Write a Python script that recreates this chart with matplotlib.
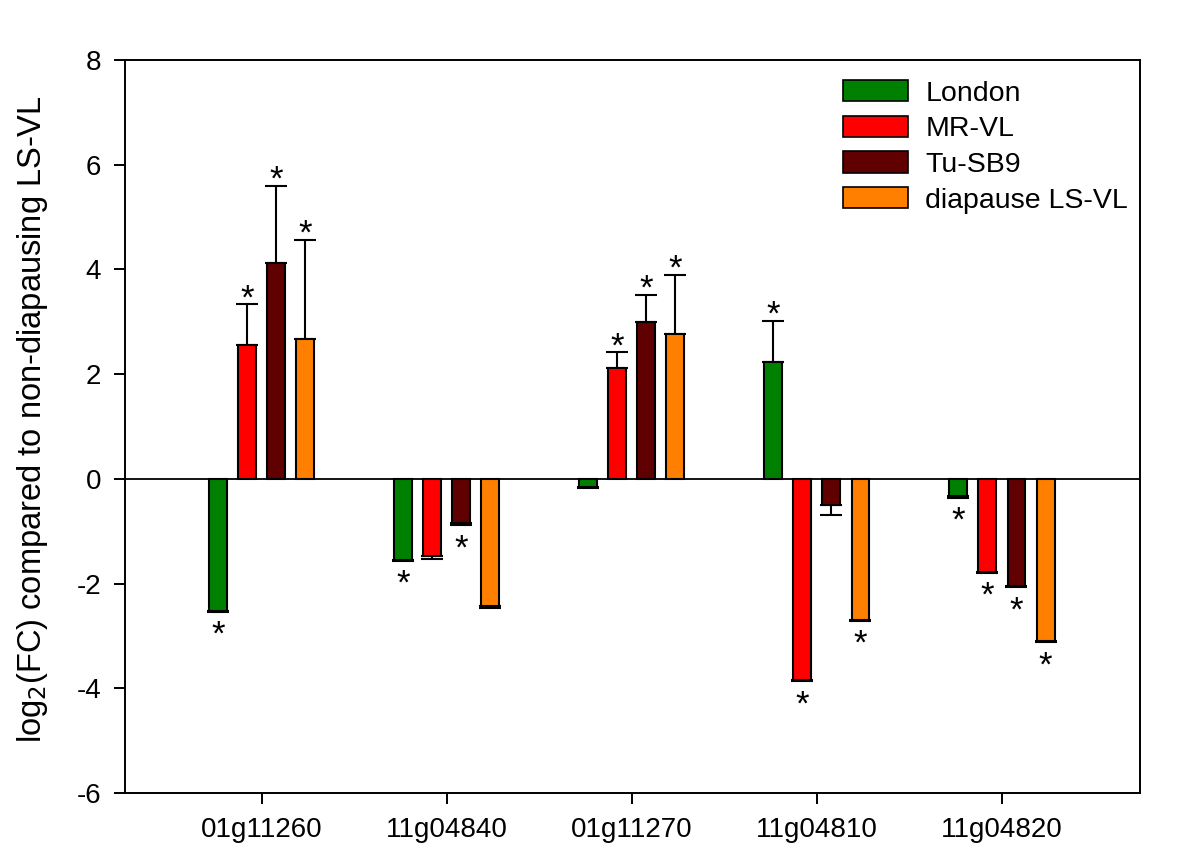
import numpy as np
import matplotlib.pyplot as plt
from matplotlib.patches import Patch

plt.rcParams['font.family'] = ['Liberation Sans', 'DejaVu Sans']
plt.rcParams['axes.unicode_minus'] = False

# Dati
genes = ['01g11260', '11g04840', '01g11270', '11g04810', '11g04820']
strains = ['London', 'MR-VL', 'Tu-SB9', 'diapause LS-VL']
colors = ['#008000', '#ff0000', '#600000', '#ff8000']

london = [-2.52, -1.55, -0.15, 2.24, -0.33]
mrvl = [2.55, -1.47, 2.12, -3.85, -1.78]
tusb9 = [4.12, -0.85, 3.00, -0.49, -2.05]
diapause = [2.68, -2.42, 2.77, -2.69, -3.10]

london_err = [0.02, 0.02, 0.03, 0.78, 0.03]
mrvl_err = [0.78, 0.06, 0.30, 0.02, 0.02]
tusb9_err = [1.48, 0.04, 0.52, 0.20, 0.02]
diapause_err = [1.88, 0.05, 1.13, 0.02, 0.02]

london_sig = [1, 1, 0, 1, 1]
mrvl_sig = [1, 0, 1, 1, 1]
tusb9_sig = [1, 1, 1, 0, 1]
diapause_sig = [1, 0, 1, 1, 1]

values = [london, mrvl, tusb9, diapause]
errors = [london_err, mrvl_err, tusb9_err, diapause_err]
sigs = [london_sig, mrvl_sig, tusb9_sig, diapause_sig]

fig = plt.figure(figsize=(12, 8.68), dpi=100)
ax = fig.add_axes([0.104, 0.0864, 0.846, 0.8445])

x = np.arange(len(genes))
pitch = 0.157
width = 0.097
for i in range(4):
    xs = x + (i - 1.5) * pitch
    v = np.array(values[i]); e = np.array(errors[i])
    ax.bar(xs, v, width, color=colors[i], edgecolor='black', linewidth=1.5, zorder=3)
    lower = np.where(v < 0, e, 0); upper = np.where(v > 0, e, 0)
    ax.errorbar(xs, v, yerr=[lower, upper], fmt='none', ecolor='black',
                elinewidth=1.5, capsize=8, capthick=1.5, zorder=2)
    # asterischi di significatività
    for j in range(len(genes)):
        if sigs[i][j]:
            if v[j] > 0:
                ax.annotate('*', (xs[j], v[j] + e[j]), xytext=(0, -4), textcoords='offset pixels',
                            ha='center', va='baseline', fontsize=25)
            else:
                ax.annotate('*', (xs[j], v[j] - e[j]), xytext=(0, -33), textcoords='offset pixels',
                            ha='center', va='baseline', fontsize=25)

ax.axhline(0, color='black', linewidth=1.3, zorder=1)
ax.set_xlim(-0.74, 4.746)
ax.set_ylim(-6, 8)
ax.set_yticks(range(-6, 9, 2))
ax.set_xticks(x)
ax.set_xticklabels(genes)
ax.tick_params(labelsize=20, direction='out', length=8, width=1.4, pad=9)
for s in ax.spines.values():
    s.set_linewidth(1.4)
ax.set_ylabel('log$_2$(FC) compared to non-diapausing LS-VL', fontsize=23.5)
ax.yaxis.set_label_coords(-0.074, 0.51)

handles = [Patch(facecolor=c, edgecolor='black', linewidth=1.2) for c in colors]
ax.legend(handles, strains, loc='upper right', frameon=False, fontsize=20.5,
          handlelength=2.3, handleheight=0.78, labelspacing=0.32, handletextpad=0.6,
          bbox_to_anchor=(1.008, 1.0), borderaxespad=0.3)

plt.savefig('out.png', dpi=100)
